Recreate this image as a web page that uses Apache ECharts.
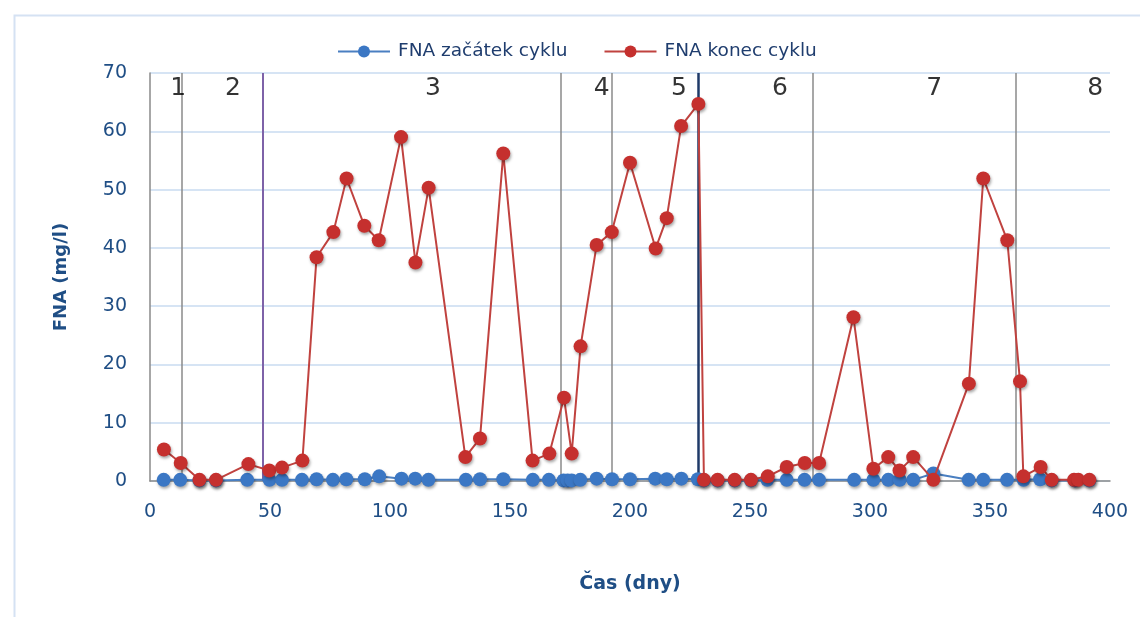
<!DOCTYPE html>
<html>
<head>
<meta charset="utf-8">
<script src="https://cdn.jsdelivr.net/npm/echarts@6/dist/echarts.min.js"></script>
<style>
html,body{margin:0;padding:0;background:#fff;}
#chart{width:1140px;height:617px;}
</style>
</head>
<body>
<div id="chart"></div>
<script>
// FNA at start of cycle: [day, mg/l]
const startX = [5.7,12.6,20.6,27.5,40.5,49.8,55,63.3,69.4,76.2,81.8,89.5,95.5,104.8,110.5,116,131.6,137.5,147.2,159.5,166.2,172.3,174,175.7,179.3,186.1,192.5,200,210.5,215.3,221.4,228.3,230.8,236.5,243.6,250.4,257.2,265.3,272.7,278.8,293.4,301.4,307.6,312.4,318,326.4,341.1,347.2,357.1,364,370.9,375.7,385.4,391.4];
const startY = [0.2,0.2,0.1,0.1,0.2,0.2,0.2,0.2,0.3,0.2,0.3,0.3,0.8,0.4,0.4,0.2,0.2,0.3,0.3,0.2,0.2,0.1,0.1,0.1,0.2,0.4,0.3,0.3,0.4,0.3,0.4,0.3,0.1,0.1,0.1,0.1,0.2,0.2,0.2,0.2,0.2,0.2,0.2,0.2,0.2,1.3,0.2,0.2,0.2,0.2,0.3,0.1,0.1,0.1];
// FNA at end of cycle: [day, mg/l]
const endX = [5.8,12.8,20.6,27.5,41,49.7,55,63.5,69.4,76.4,81.9,89.3,95.3,104.6,110.6,116.1,131.4,137.5,147.2,159.4,166.4,172.5,175.7,179.4,186.1,192.4,200,210.7,215.3,221.3,228.5,230.8,236.5,243.6,250.4,257.4,265.3,272.8,278.8,293.1,301.4,307.6,312.3,318,326.4,341.2,347.2,357.2,362.5,363.9,371.1,375.7,385,386.8,391.4];
const endY = [5.4,3.1,0.2,0.2,2.9,1.8,2.3,3.5,38.4,42.7,51.9,43.8,41.3,59,37.5,50.3,4.1,7.3,56.2,3.5,4.7,14.3,4.7,23.1,40.5,42.7,54.6,39.9,45.1,60.9,64.7,0.2,0.2,0.2,0.2,0.8,2.4,3.1,3.1,28.1,2.1,4.1,1.8,4.1,0.2,16.7,51.9,41.3,17.1,0.8,2.4,0.2,0.2,0.2,0.2];
// cycle boundaries (day) and colours
const boundaryX = [13.2,47,171.3,192.6,228.5,276,360.7];
const boundaryColor = ['#8a8a8a','#7e62a8','#8a8a8a','#8a8a8a','#1f3a68','#8a8a8a','#8a8a8a'];
const boundaryWidth = [1.5,2,1.5,1.5,2.5,1.5,1.5];
// cycle labels
const cycleNames = ['1','2','3','4','5','6','7','8'];
const cycleLabelX = [11.7,34.6,117.9,188.2,220.4,262.5,326.7,393.8];
const cycleLabelY = 67.4;
const xTicks = {min:0,max:400,interval:50};
const yTicks = {min:0,max:70,interval:10};

const chart = echarts.init(document.getElementById('chart'));
const zip = (a,b)=>a.map((v,i)=>[v,b[i]]);
const axisColor = '#1f4e85';
const shadow = {shadowBlur:3, shadowColor:'rgba(0,0,0,0.35)', shadowOffsetX:1, shadowOffsetY:2};

chart.setOption({
  animation:false,
  backgroundColor:'#ffffff',
  graphic:[{type:'rect', left:12, top:13, shape:{width:1200,height:700}, style:{fill:'none', stroke:'#d5e2f3', lineWidth:2}, z:-10}],
  grid:{left:150, right:30, top:73, bottom:136},
  legend:{
    left:332, top:37, itemWidth:52, itemHeight:15, itemGap:36,
    data:['FNA začátek cyklu','FNA konec cyklu'],
    textStyle:{fontFamily:'DejaVu Sans', fontSize:18.5, color:'#1f3d6e', padding:[0,0,0,3]}
  },
  xAxis:{
    type:'value', min:xTicks.min, max:xTicks.max, interval:xTicks.interval,
    name:'Čas (dny)', nameLocation:'middle', nameGap:94,
    nameTextStyle:{fontFamily:'DejaVu Sans', fontWeight:'bold', fontSize:19, color:axisColor},
    axisLine:{show:true, onZero:false, lineStyle:{color:'#8a8a8a', width:1.5}},
    axisTick:{show:false},
    splitLine:{show:false},
    axisLabel:{margin:22, fontFamily:'DejaVu Sans', fontSize:19, color:axisColor}
  },
  yAxis:{
    type:'value', min:yTicks.min, max:yTicks.max, interval:yTicks.interval,
    name:'FNA (mg/l)', nameLocation:'middle', nameGap:80, nameRotate:90,
    nameTextStyle:{fontFamily:'DejaVu Sans', fontWeight:'bold', fontSize:18, color:axisColor},
    axisLine:{show:true, lineStyle:{color:'#8a8a8a', width:1.5}},
    axisTick:{show:false},
    splitLine:{show:true, lineStyle:{color:'#c9dbf1', width:1.5}},
    axisLabel:{margin:23, fontFamily:'DejaVu Sans', fontSize:19, color:axisColor}
  },
  series:[
    {
      name:'FNA začátek cyklu', type:'line', data:zip(startX,startY),
      symbol:'circle', symbolSize:14, z:3,
      lineStyle:{color:'#4a7fc1', width:2},
      itemStyle:Object.assign({color:'#3b77c4'}, shadow),
      markLine:{
        silent:true, symbol:'none', label:{show:false}, z:1,
        data:boundaryX.map((x,i)=>({xAxis:x, lineStyle:{color:boundaryColor[i], width:boundaryWidth[i], type:'solid'}}))
      }
    },
    {
      name:'FNA konec cyklu', type:'line', data:zip(endX,endY),
      symbol:'circle', symbolSize:14, z:4,
      lineStyle:{color:'#c0423f', width:2},
      itemStyle:Object.assign({color:'#c5302e'}, shadow)
    },
    {
      name:'labels', type:'scatter', symbolSize:0, silent:true, z:5,
      data:cycleLabelX.map((x,i)=>({value:[x,cycleLabelY], name:cycleNames[i]})),
      label:{show:true, position:'inside', formatter:p=>p.name, fontFamily:'DejaVu Sans', fontSize:25, color:'#000000'}
    }
  ]
});
</script>
</body>
</html>
